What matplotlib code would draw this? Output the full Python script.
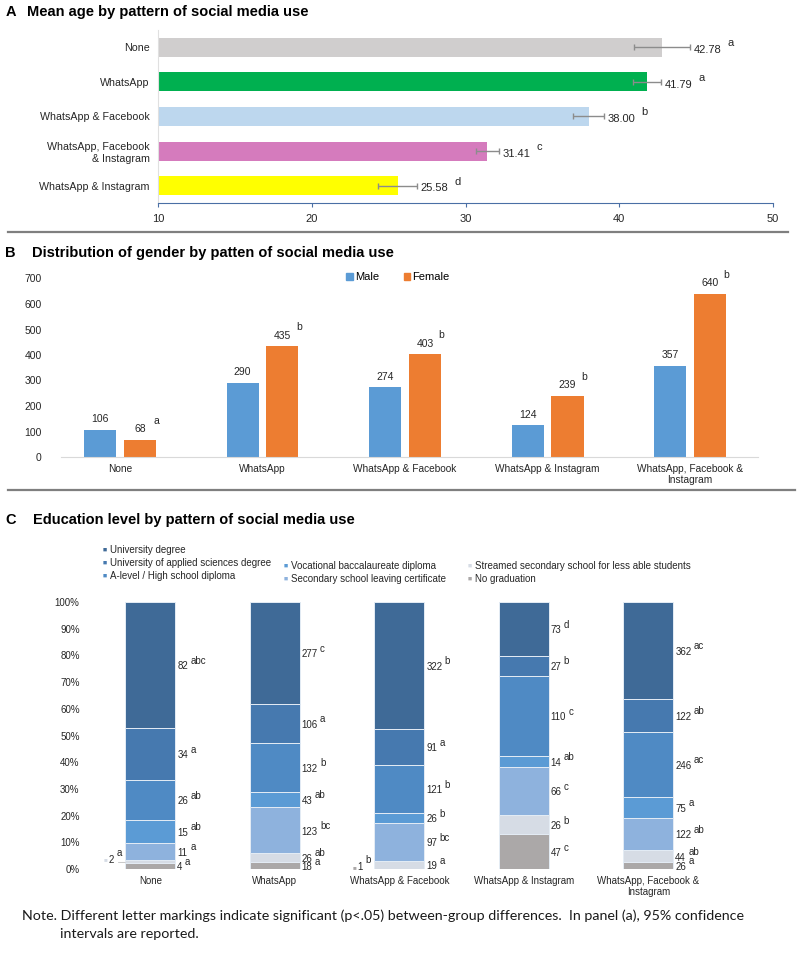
import numpy as np
import matplotlib
matplotlib.use("Agg")
import matplotlib.pyplot as plt
from matplotlib.patches import Patch
from matplotlib.lines import Line2D
from matplotlib.ticker import PercentFormatter

plt.rcParams['font.family'] = ['Liberation Sans', 'DejaVu Sans']

# ---- data ----
# panel A: mean age
age_groups = ["None", "WhatsApp", "WhatsApp & Facebook",
              "WhatsApp, Facebook\n& Instagram", "WhatsApp & Instagram"]
age_mean = [42.78, 41.79, 38.00, 31.41, 25.58]
age_ci = [1.8, 0.9, 1.0, 0.75, 1.25]
age_letters = ["a", "a", "b", "c", "d"]
age_colors = ["#D0CECE", "#00B050", "#BDD7EE", "#D57BBD", "#FFFF00"]

# panel B: gender
gender_groups = ["None", "WhatsApp", "WhatsApp & Facebook",
                 "WhatsApp & Instagram", "WhatsApp, Facebook &\nInstagram"]
male = [106, 290, 274, 124, 357]
female = [68, 435, 403, 239, 640]
female_letters = ["a", "b", "b", "b", "b"]

# panel C: education (same group order as B)
edu_levels = ["University degree", "University of applied sciences degree",
              "A-level / High school diploma", "Vocational baccalaureate diploma",
              "Secondary school leaving certificate",
              "Streamed secondary school for less able students", "No graduation"]
univ = [82, 277, 322, 73, 362]
uas = [34, 106, 91, 27, 122]
alevel = [26, 132, 121, 110, 246]
vocational = [15, 43, 26, 14, 75]
secondary = [11, 123, 97, 66, 122]
streamed = [2, 26, 19, 26, 44]
nograd = [4, 18, 1, 47, 26]
univ_l = ["abc", "c", "b", "d", "ac"]
uas_l = ["a", "a", "a", "b", "ab"]
alevel_l = ["ab", "b", "b", "c", "ac"]
vocational_l = ["ab", "ab", "b", "ab", "a"]
secondary_l = ["a", "bc", "bc", "c", "ab"]
streamed_l = ["a", "ab", "a", "b", "ab"]
nograd_l = ["a", "a", "b", "c", "a"]
edu_colors = ["#3F6A97", "#4679AF", "#4F8AC4", "#5B9BD5", "#8EB2DD", "#D6DCE5", "#ABA8A8"]

W, H = 800, 956
fig = plt.figure(figsize=(W / 100, H / 100), dpi=100)
TXT = "#262626"


def add_ax(x0, y0, x1, y1):
    return fig.add_axes([x0 / W, 1 - y1 / H, (x1 - x0) / W, (y1 - y0) / H])


def ftext(x, y, s, **kw):
    fig.text(x / W, 1 - y / H, s, **kw)


def hline(y, x0, x1):
    fig.add_artist(Line2D([x0 / W, x1 / W], [1 - y / H, 1 - y / H],
                          color="#7f7f7f", lw=1.6, transform=fig.transFigure))


# ---------- panel A ----------
ftext(6, 12, "A", fontsize=10.5, fontweight="bold", va="center")
ftext(27, 12, "Mean age by pattern of social media use", fontsize=10.5,
      fontweight="bold", va="center")
ax = add_ax(158, 30, 773, 203)
ys = np.arange(len(age_groups))
ax.barh(ys, age_mean, height=0.55, color=age_colors, left=0)
ax.errorbar(age_mean, ys, xerr=age_ci, fmt="none", ecolor="#8c8c8c",
            elinewidth=1, capsize=2.5, capthick=1)
ax.set_xlim(10, 50)
ax.set_ylim(4.5, -0.5)
ax.set_xticks([10, 20, 30, 40, 50])
ax.set_yticks(ys)
ax.set_yticklabels(age_groups, fontsize=7.7, color=TXT)
ax.tick_params(axis="y", length=0, pad=6)
ax.tick_params(axis="x", direction="out", length=3, color="#4A6FA5",
               labelsize=8, labelcolor=TXT, pad=5)
for s in ["top", "right"]:
    ax.spines[s].set_visible(False)
ax.spines["left"].set_color("#E0E0E0")
ax.spines["bottom"].set_color("#4A6FA5")
for y, v, e, l in zip(ys, age_mean, age_ci, age_letters):
    ax.annotate(f"{v:.2f}", xy=(v + e, y), xytext=(3, -2), textcoords="offset points",
                fontsize=8, va="center", ha="left", color=TXT)
    ax.annotate(l, xy=(v + e, y), xytext=(27, 3), textcoords="offset points",
                fontsize=8, va="center", ha="left", color=TXT)

hline(232, 8, 788)

# ---------- panel B ----------
ftext(5, 253, "B", fontsize=10.5, fontweight="bold", va="center")
ftext(32, 253, "Distribution of gender by patten of social media use", fontsize=10.5,
      fontweight="bold", va="center")
axb = add_ax(61, 278.5, 758, 457)
xb = np.arange(len(gender_groups))
bw = 0.225
axb.bar(xb - 0.14, male, width=bw, color="#5B9BD5", label="Male")
axb.bar(xb + 0.14, female, width=bw, color="#ED7D31", label="Female")
axb.set_ylim(0, 700)
axb.set_xlim(-0.414, 4.477)
axb.set_yticks(range(0, 701, 100))
axb.set_xticks(xb)
axb.set_xticklabels(gender_groups, fontsize=7.3, color=TXT, linespacing=1.1)
axb.tick_params(axis="y", length=0, pad=14, labelsize=7.5, labelcolor=TXT)
axb.tick_params(axis="x", length=0, pad=5)
for s in ["top", "right", "left"]:
    axb.spines[s].set_visible(False)
axb.spines["bottom"].set_color("#D9D9D9")
for x, m, f, l in zip(xb, male, female, female_letters):
    axb.annotate(str(m), xy=(x - 0.14, m), xytext=(0, 4), textcoords="offset points",
                 ha="center", va="bottom", fontsize=7.5, color=TXT)
    axb.annotate(str(f), xy=(x + 0.14, f), xytext=(0, 4), textcoords="offset points",
                 ha="center", va="bottom", fontsize=7.5, color=TXT)
    axb.annotate(l, xy=(x + 0.14, f), xytext=(12, 10), textcoords="offset points",
                 ha="center", va="bottom", fontsize=7.5, color=TXT)
fig.legend(handles=[Patch(color="#5B9BD5", label="Male"),
                    Patch(color="#ED7D31", label="Female")],
           loc="center", bbox_to_anchor=(398 / W, 1 - 277 / H), ncol=2,
           fontsize=8, frameon=False, handlelength=0.6, handleheight=0.6,
           handletextpad=0.2, columnspacing=2.2)

hline(490, 8, 795)

# ---------- panel C ----------
ftext(5, 520, "C", fontsize=10.5, fontweight="bold", va="center")
ftext(33, 520, "Education level by pattern of social media use", fontsize=10.5,
      fontweight="bold", va="center")

leg_pos = [(103, 550), (103, 563), (103, 576), (284, 566), (284, 579),
           (468, 566), (468, 579)]
for (lx, ly), lab, c in zip(leg_pos, edu_levels, edu_colors):
    ftext(lx, ly, "■", fontsize=5, color=c, va="center")
    ftext(lx + 7, ly, lab, fontsize=7, color=TXT, va="center")

axc = add_ax(88, 602, 710.5, 869)
counts = np.array([univ, uas, alevel, vocational, secondary, streamed, nograd], dtype=float)
letters = [univ_l, uas_l, alevel_l, vocational_l, secondary_l, streamed_l, nograd_l]
share = counts / counts.sum(axis=0)
xc = np.arange(counts.shape[1])
cw = 0.4
bottom = np.zeros(counts.shape[1])
# stack from bottom (No graduation) to top (University degree)
for k in range(len(edu_levels) - 1, -1, -1):
    axc.bar(xc, share[k], width=cw, bottom=bottom, color=edu_colors[k],
            edgecolor="#E4ECF5", linewidth=0.7)
    for i in xc:
        mid = bottom[i] + share[k][i] / 2
        num = str(int(counts[k][i]))
        outside_left = (k == 5 and i == 0) or (k == 6 and i == 2)
        if outside_left:
            axc.annotate("■", xy=(i - cw / 2, mid), xytext=(-16, 1),
                         textcoords="offset points", fontsize=4.5, color=edu_colors[k],
                         va="center", ha="left")
            axc.annotate(num, xy=(i - cw / 2, mid), xytext=(-12, 1),
                         textcoords="offset points", fontsize=7, color=TXT,
                         va="center", ha="left")
            axc.annotate(letters[k][i], xy=(i - cw / 2, mid), xytext=(-6.5, 6),
                         textcoords="offset points", fontsize=7, color=TXT,
                         va="center", ha="left")
            axc.annotate("", xy=(i - cw / 2, mid - 0.004), xytext=(-5, 0),
                         textcoords="offset points",
                         arrowprops=dict(arrowstyle="-", color="#BFBFBF", lw=0.6,
                                         shrinkA=0, shrinkB=0))
        else:
            axc.annotate(num, xy=(i + cw / 2, mid), xytext=(1.5, -1),
                         textcoords="offset points", fontsize=7, color=TXT,
                         va="center", ha="left")
            axc.annotate(letters[k][i], xy=(i + cw / 2, mid),
                         xytext=(1.5 + 3.9 * len(num) + 1.5, 3),
                         textcoords="offset points", fontsize=7, color=TXT,
                         va="center", ha="left")
    bottom += share[k]

axc.set_xlim(-0.5, 4.5)
axc.set_ylim(0, 1)
axc.set_yticks(np.linspace(0, 1, 11))
axc.yaxis.set_major_formatter(PercentFormatter(1.0, decimals=0))
axc.set_xticks(xc)
axc.set_xticklabels(gender_groups, fontsize=7, color=TXT, linespacing=1.1)
axc.tick_params(axis="y", length=0, pad=6, labelsize=7, labelcolor=TXT)
axc.tick_params(axis="x", length=0, pad=5)
for s in axc.spines.values():
    s.set_visible(False)

# ---------- note ----------
note_font = ["Lato", "DejaVu Sans"]
ftext(22, 916, "Note. Different letter markings indicate significant (p<.05) between-group "
      "differences.  In panel (a), 95% confidence", fontsize=10.3, family=note_font,
      va="center", color="#1a1a1a")
ftext(60, 934, "intervals are reported.", fontsize=10.3, family=note_font,
      va="center", color="#1a1a1a")

fig.savefig("out.png", dpi=100)
